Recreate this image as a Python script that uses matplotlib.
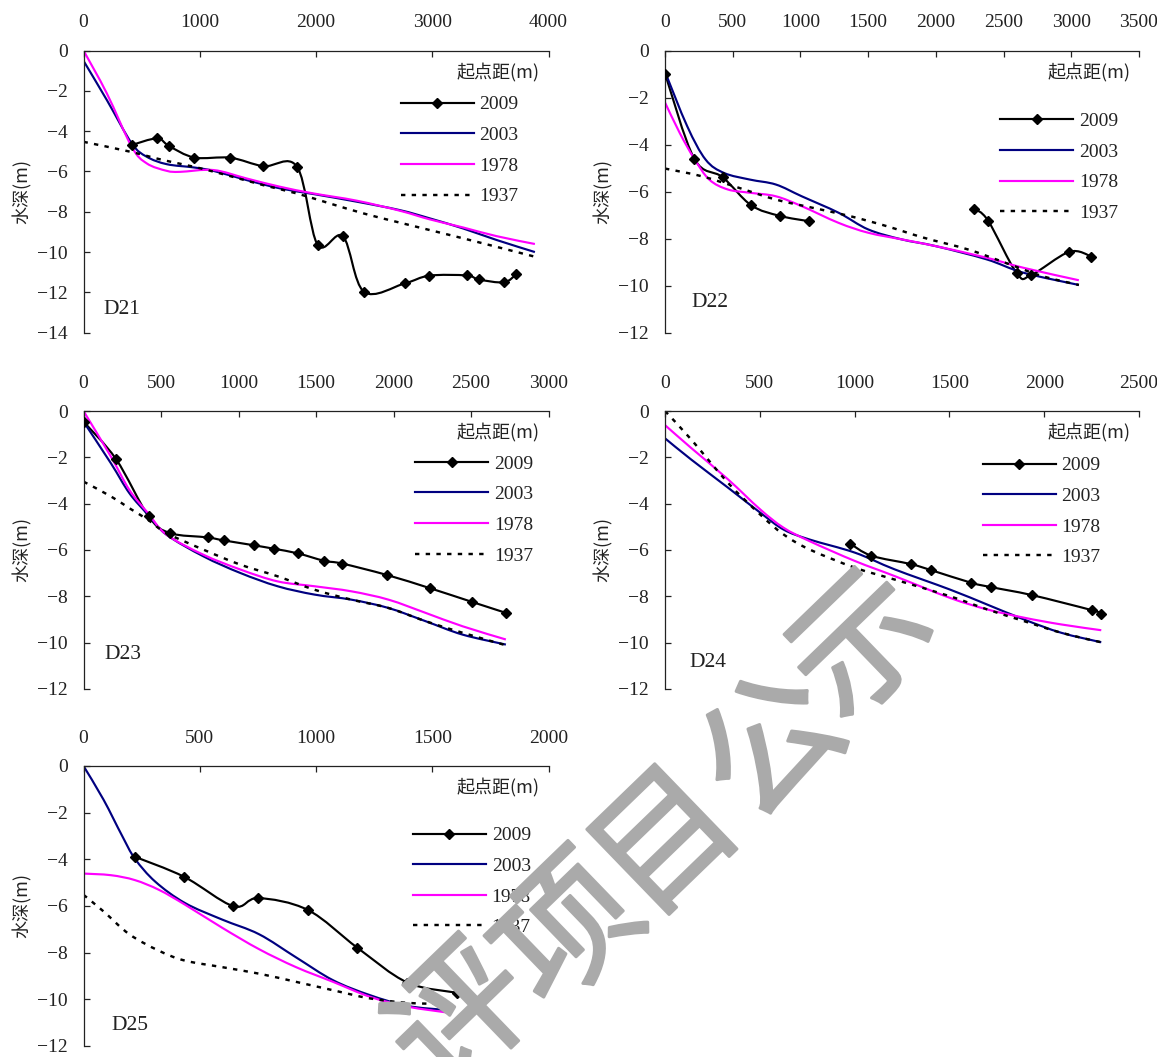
import numpy as np
import matplotlib
matplotlib.use("Agg")
import matplotlib.pyplot as plt
import matplotlib.patheffects as pe
from matplotlib.path import Path
from matplotlib.patches import PathPatch
from matplotlib.lines import Line2D

# ---------------- data ----------------
YEARS = ["2009", "2003", "1978", "1937"]
PANELS = ["D21", "D22", "D23", "D24", "D25"]
X_LABEL = "起点距(m)"
Y_LABEL = "水深(m)"

# D21
D21_2009_X = [415, 633, 736, 954, 1264, 1547, 1837, 2014, 2232, 2413, 2765, 2974, 3295, 3401, 3616, 3722]
D21_2009_Y = [-4.69, -4.36, -4.74, -5.31, -5.32, -5.74, -5.77, -9.64, -9.22, -11.97, -11.55, -11.17, -11.16, -11.36, -11.50, -11.11]
D21_2003_X = [0, 201, 415, 544, 716, 946, 1117, 1404, 1691, 1977, 2350, 2722, 2980, 3266, 3553, 3883]
D21_2003_Y = [-0.51, -2.46, -4.61, -5.27, -5.64, -5.80, -5.97, -6.43, -6.84, -7.12, -7.50, -7.92, -8.33, -8.83, -9.40, -10.0]
D21_1978_X = [0, 201, 415, 544, 716, 831, 1117, 1404, 1691, 1977, 2350, 2722, 2980, 3266, 3553, 3883]
D21_1978_Y = [0.0, -2.13, -4.78, -5.60, -5.97, -6.02, -5.93, -6.35, -6.76, -7.09, -7.45, -7.95, -8.38, -8.78, -9.21, -9.60]
D21_1937_X = [0, 401, 688, 974, 1261, 1547, 1834, 2120, 2407, 2693, 2980, 3266, 3553, 3883]
D21_1937_Y = [-4.53, -5.02, -5.44, -5.80, -6.23, -6.68, -7.09, -7.59, -8.08, -8.50, -8.91, -9.32, -9.74, -10.23]

# D22 (2009 has a gap)
D22_2009_X = [0, 216, 426, 636, 846, 1064, 1600, 2281, 2385, 2598, 2701, 2985, 3149]
D22_2009_Y = [-0.98, -4.60, -5.39, -6.58, -7.03, -7.26, np.nan, -6.73, -7.23, -9.48, -9.56, -8.56, -8.76]
D22_2003_X = [0, 164, 300, 437, 628, 819, 1010, 1282, 1501, 1746, 2000, 2374, 2647, 3056]
D22_2003_Y = [-0.90, -3.22, -4.64, -5.21, -5.49, -5.70, -6.20, -6.90, -7.61, -8.03, -8.32, -8.88, -9.45, -9.97]
D22_1978_X = [0, 109, 216, 327, 464, 628, 819, 1010, 1282, 1501, 1746, 2000, 2374, 2647, 3056]
D22_1978_Y = [-2.21, -3.51, -4.60, -5.49, -5.91, -6.05, -6.20, -6.62, -7.33, -7.75, -8.03, -8.32, -8.81, -9.24, -9.77]
D22_1937_X = [0, 273, 546, 819, 1091, 1364, 1637, 1910, 2237, 2510, 2783, 3056]
D22_1937_Y = [-5.02, -5.35, -5.84, -6.34, -6.69, -7.04, -7.47, -7.96, -8.46, -9.02, -9.59, -9.97]

# D23
D23_2009_X = [0, 210, 420, 557, 800, 905, 1099, 1228, 1383, 1552, 1669, 1956, 2238, 2508, 2725]
D23_2009_Y = [-0.46, -2.08, -4.55, -5.27, -5.46, -5.59, -5.80, -5.95, -6.15, -6.47, -6.59, -7.08, -7.66, -8.25, -8.72]
D23_2003_X = [0, 177, 296, 416, 535, 774, 1013, 1252, 1490, 1729, 1968, 2207, 2446, 2725]
D23_2003_Y = [-0.46, -2.26, -3.55, -4.48, -5.34, -6.28, -7.00, -7.57, -7.93, -8.15, -8.51, -9.08, -9.66, -10.09]
D23_1978_X = [0, 177, 296, 416, 535, 774, 1013, 1252, 1490, 1729, 1968, 2207, 2446, 2725]
D23_1978_Y = [0.0, -1.97, -3.41, -4.41, -5.34, -6.21, -6.85, -7.36, -7.57, -7.79, -8.15, -8.72, -9.30, -9.87]
D23_1937_X = [0, 177, 296, 416, 535, 774, 1013, 1252, 1490, 1729, 1968, 2207, 2446, 2725]
D23_1937_Y = [-3.05, -3.69, -4.20, -4.70, -5.27, -5.99, -6.64, -7.14, -7.72, -8.15, -8.51, -9.08, -9.58, -10.12]

# D24
D24_2009_X = [977, 1088, 1295, 1402, 1615, 1721, 1934, 2250, 2301]
D24_2009_Y = [-5.73, -6.25, -6.61, -6.87, -7.42, -7.61, -7.95, -8.60, -8.75]
D24_2003_X = [0, 137, 332, 502, 625, 762, 1002, 1211, 1502, 1699, 1895, 2090, 2301]
D24_2003_Y = [-1.18, -2.09, -3.31, -4.39, -5.12, -5.55, -6.12, -6.84, -7.71, -8.36, -9.01, -9.58, -9.99]
D24_1978_X = [0, 137, 332, 502, 625, 762, 1002, 1211, 1502, 1699, 1895, 2090, 2301]
D24_1978_Y = [-0.61, -1.59, -2.95, -4.25, -5.04, -5.62, -6.48, -7.13, -8.07, -8.57, -8.93, -9.22, -9.47]
D24_1937_X = [0, 137, 332, 502, 625, 762, 1002, 1211, 1502, 1699, 1895, 2090, 2301]
D24_1937_Y = [0.0, -1.22, -3.10, -4.47, -5.33, -5.98, -6.77, -7.28, -8.00, -8.57, -9.08, -9.58, -9.99]

# D25
D25_2009_X = [221, 433, 645, 752, 965, 1178, 1393, 1607]
D25_2009_Y = [-3.89, -4.75, -6.01, -5.66, -6.17, -7.79, -9.28, -9.72]
D25_2003_X = [0, 86, 166, 221, 309, 436, 596, 755, 914, 1073, 1232, 1392, 1551]
D25_2003_Y = [0.0, -1.44, -2.99, -3.97, -4.96, -5.87, -6.58, -7.21, -8.20, -9.18, -9.82, -10.28, -10.45]
D25_1978_X = [0, 118, 221, 325, 436, 596, 755, 914, 1073, 1232, 1392, 1583]
D25_1978_Y = [-4.61, -4.68, -4.89, -5.31, -5.94, -6.93, -7.85, -8.62, -9.25, -9.89, -10.31, -10.59]
D25_1937_X = [0, 86, 197, 325, 436, 596, 755, 914, 1073, 1232, 1392, 1551]
D25_1937_Y = [-5.52, -6.23, -7.21, -7.92, -8.34, -8.62, -8.90, -9.25, -9.61, -9.96, -10.15, -10.20]

X_MAX = [4000, 3500, 3000, 2500, 2000]
X_STEP = [1000, 500, 500, 500, 500]
Y_MIN = [-14, -12, -12, -12, -12]

WATERMARK_CHARS = ["评", "项", "目", "公", "示"]

SERIES = {
    "D21": [(D21_2009_X, D21_2009_Y), (D21_2003_X, D21_2003_Y), (D21_1978_X, D21_1978_Y), (D21_1937_X, D21_1937_Y)],
    "D22": [(D22_2009_X, D22_2009_Y), (D22_2003_X, D22_2003_Y), (D22_1978_X, D22_1978_Y), (D22_1937_X, D22_1937_Y)],
    "D23": [(D23_2009_X, D23_2009_Y), (D23_2003_X, D23_2003_Y), (D23_1978_X, D23_1978_Y), (D23_1937_X, D23_1937_Y)],
    "D24": [(D24_2009_X, D24_2009_Y), (D24_2003_X, D24_2003_Y), (D24_1978_X, D24_1978_Y), (D24_1937_X, D24_1937_Y)],
    "D25": [(D25_2009_X, D25_2009_Y), (D25_2003_X, D25_2003_Y), (D25_1978_X, D25_1978_Y), (D25_1937_X, D25_1937_Y)],
}

# ---------------- style ----------------
W, H = 1157, 1057
NUM_FONT = "Liberation Serif"
CJK_FONT = ["Noto Sans CJK SC", "DejaVu Sans"]
COLORS = {"2009": "black", "2003": "#000080", "1978": "#FF00FF", "1937": "black"}
TXT = "#222222"
LW = 1.55
DOT = (0, (1.8, 2.6))
FS = 14

plt.rcParams["font.family"] = [NUM_FONT, "Noto Sans CJK SC", "DejaVu Sans"]
plt.rcParams["axes.unicode_minus"] = True

fig = plt.figure(figsize=(W / 100, H / 100), dpi=100)


def fx(px):
    return px / W


def fy(py):
    return 1 - py / H


# axes boxes in pixels: left, top, right, bottom
BOXES = [
    (83.5, 50.5, 548.5, 332.7),
    (665.0, 50.5, 1139.0, 332.7),
    (83.5, 411.0, 548.5, 688.8),
    (665.0, 411.0, 1139.0, 688.8),
    (83.5, 766.0, 548.5, 1046.0),
]
LEGEND_POS = [(400.7, 102.3), (1000.2, 119.1), (415.4, 461.5), (982.7, 463.2), (412.8, 833.2)]
PANEL_POS = [(103.3, 309.0), (691.0, 302.8), (104.8, 654.5), (689.2, 662.8), (111.0, 1025.0)]


def smooth_path(xs, ys):
    xs = np.asarray(xs, float)
    ys = np.asarray(ys, float)
    verts, codes = [], []
    ok = ~np.isnan(ys)
    segs, cur = [], []
    for i in range(len(xs)):
        if ok[i]:
            cur.append((xs[i], ys[i]))
        else:
            if cur:
                segs.append(cur)
            cur = []
    if cur:
        segs.append(cur)
    for seg in segs:
        P = np.array(seg)
        n = len(P)
        if n < 2:
            continue
        verts.append(P[0])
        codes.append(Path.MOVETO)
        for i in range(n - 1):
            p0 = P[i - 1] if i > 0 else P[i]
            p1 = P[i]
            p2 = P[i + 1]
            p3 = P[i + 2] if i + 2 < n else P[i + 1]
            c1 = p1 + (p2 - p0) / 6.0
            c2 = p2 - (p3 - p1) / 6.0
            verts += [c1, c2, p2]
            codes += [Path.CURVE4] * 3
    return Path(verts, codes)


for k, name in enumerate(PANELS):
    l, t, r, b = BOXES[k]
    ax = fig.add_axes([fx(l), fy(b), fx(r) - fx(l), (b - t) / H])
    ax.set_xlim(0, X_MAX[k])
    ax.set_ylim(Y_MIN[k], 0)
    ax.set_xticks(np.arange(0, X_MAX[k] + 1, X_STEP[k]))
    ax.set_yticks(np.arange(Y_MIN[k], 1, 2))
    ax.spines["right"].set_visible(False)
    ax.spines["bottom"].set_visible(False)
    for s in ("left", "top"):
        ax.spines[s].set_linewidth(0.9)
        ax.spines[s].set_color("#222222")
    ax.xaxis.set_ticks_position("top")
    ax.tick_params(axis="x", top=True, bottom=False, labeltop=True, labelbottom=False,
                   direction="in", length=4.5, width=0.9, pad=14, labelsize=FS,
                   colors=TXT)
    ax.tick_params(axis="y", direction="in", length=4.5, width=0.9, pad=11.5, labelsize=FS,
                   colors=TXT)
    for lab in ax.get_xticklabels() + ax.get_yticklabels():
        lab.set_fontfamily(NUM_FONT)

    ser = SERIES[name]
    order = [3, 1, 2, 0]
    for j in order:
        xs, ys = ser[j]
        yr = YEARS[j]
        ls = DOT if yr == "1937" else "solid"
        lw = 1.75 if yr == "1937" else LW
        patch = PathPatch(smooth_path(xs, ys), facecolor="none", edgecolor=COLORS[yr],
                          lw=lw, linestyle=ls, capstyle="butt", joinstyle="round", zorder=2 + j * 0.1)
        ax.add_patch(patch)
        if yr == "2009":
            ax.plot(xs, ys, linestyle="none", marker="D", ms=4.6, color="black", zorder=5)

    handles = [
        Line2D([], [], color="black", lw=LW, marker="D", ms=4.6),
        Line2D([], [], color=COLORS["2003"], lw=LW),
        Line2D([], [], color=COLORS["1978"], lw=LW),
        Line2D([], [], color="black", lw=1.75, linestyle=DOT, dash_capstyle="butt"),
    ]
    lx, ly = LEGEND_POS[k]
    leg = ax.legend(handles, YEARS, loc="upper left", bbox_to_anchor=(fx(lx), fy(ly - 6.5)),
                    bbox_transform=fig.transFigure, frameon=False, borderpad=0, borderaxespad=0,
                    handlelength=73 / (FS * 100 / 72), handletextpad=0.3, labelspacing=0.67,
                    prop={"family": NUM_FONT, "size": FS})
    for txt in leg.get_texts():
        txt.set_color(TXT)

    # x label (inside, top right)
    fig.text(fx(r - 8.5), fy(t + 22.0), X_LABEL, ha="right", va="center",
             family=CJK_FONT, fontsize=13, color=TXT)
    # y label
    fig.text(fx(l - 61.5), fy((t + b) / 2), Y_LABEL, rotation=90, ha="center", va="center",
             family=CJK_FONT, fontsize=13, color=TXT)
    # panel label
    px, py = PANEL_POS[k]
    fig.text(fx(px), fy(py), name, ha="left", va="center", family=NUM_FONT,
             fontsize=15.5, color=TXT)

# watermark
WM_COLOR = "#aaaaaa"
WM_POS = [(466, 1022), (572, 936), (669, 846), (776, 751), (866, 649)]
for ch, (px, py) in zip(WATERMARK_CHARS, WM_POS):
    fig.text(fx(px), fy(py), ch, rotation=44, rotation_mode="anchor", ha="center", va="center",
             family=CJK_FONT, fontsize=100, color=WM_COLOR, zorder=20,
             path_effects=[pe.withStroke(linewidth=2.2, foreground=WM_COLOR)])

fig.savefig("out.png", dpi=100)
